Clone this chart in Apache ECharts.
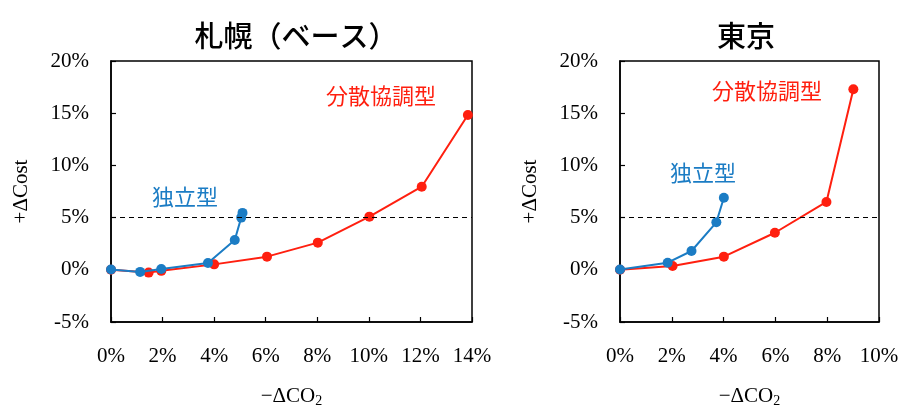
<!DOCTYPE html>
<html><head><meta charset="utf-8">
<script src="https://cdn.jsdelivr.net/npm/echarts@6/dist/echarts.min.js"></script>
<style>html,body{margin:0;padding:0;background:#fff}#c{width:904px;height:405px}</style>
</head><body><div id="c"></div>
<script>
// 札幌（ベース） — 分散協調型
const sapporoCO2Dist = [0, 1.46, 1.95, 4.0, 6.05, 8.02, 10.02, 12.05, 13.84];
const sapporoCostDist = [0, -0.27, -0.1, 0.52, 1.26, 2.6, 5.09, 7.96, 14.83];
// 札幌（ベース） — 独立型
const sapporoCO2Ind = [0, 1.13, 1.95, 3.76, 4.8, 5.05, 5.1];
const sapporoCostInd = [0.03, -0.2, 0.08, 0.65, 2.85, 5.0, 5.45];
// 東京 — 分散協調型
const tokyoCO2Dist = [0, 2.03, 4.01, 5.98, 7.97, 9.01];
const tokyoCostDist = [0, 0.36, 1.26, 3.55, 6.5, 17.29];
// 東京 — 独立型
const tokyoCO2Ind = [0, 1.84, 2.76, 3.72, 4.01];
const tokyoCostInd = [0.03, 0.68, 1.8, 4.55, 6.9];

const titles = ['札幌（ベース）', '東京'];
const seriesNames = ['分散協調型', '独立型'];
const yMin = -5, yMax = 20, yStep = 5;
const xMaxes = [14, 10], xStep = 2;
const refLine = 5;

const RED = '#ff1f0f', BLUE = '#1b7cc4';
const SERIF = '"Liberation Serif","Times New Roman",serif';
const JP = '"Noto Sans CJK JP","Noto Sans",sans-serif';

const zip = (a, b) => a.map((v, i) => [v, b[i]]);
const grids = [
  {left: 111, top: 61, width: 361, height: 261},
  {left: 620, top: 61, width: 259, height: 261}
];

function xAxis(i) {
  return {
    type: 'value', gridIndex: i, min: 0, max: xMaxes[i], interval: xStep,
    axisLine: {show: true, onZero: false, lineStyle: {color: '#000', width: 1.5}},
    axisTick: {show: true, inside: true, length: 5, lineStyle: {color: '#000', width: 1.2}},
    axisLabel: {formatter: '{value}%', color: '#000', fontFamily: SERIF, fontSize: 21, margin: 24},
    splitLine: {show: false},
    name: '−ΔCO{sub|2}', nameLocation: 'middle', nameGap: 63,
    nameTextStyle: {color: '#000', fontFamily: SERIF, fontSize: 21,
      rich: {sub: {fontFamily: SERIF, fontSize: 14, color: '#000', verticalAlign: 'bottom', padding: [9, 0, 0, 0]}}}
  };
}
function yAxis(i) {
  return {
    type: 'value', gridIndex: i, min: yMin, max: yMax, interval: yStep,
    axisLine: {show: true, onZero: false, lineStyle: {color: '#000', width: 1.5}},
    axisTick: {show: true, inside: true, length: 5, lineStyle: {color: '#000', width: 1.2}},
    axisLabel: {formatter: '{value}%', color: '#000', fontFamily: SERIF, fontSize: 21, margin: 22},
    splitLine: {show: false},
    name: '+ΔCost', nameLocation: 'middle', nameGap: 79, nameRotate: 90,
    nameTextStyle: {color: '#000', fontFamily: SERIF, fontSize: 21}
  };
}
function lineSeries(name, data, color, i, withRef) {
  const s = {
    name, type: 'line', xAxisIndex: i, yAxisIndex: i, data,
    symbol: 'circle', symbolSize: 10, showSymbol: true,
    lineStyle: {color, width: 2}, itemStyle: {color},
    z: name === seriesNames[1] ? 4 : 3, animation: false
  };
  if (withRef) {
    s.markLine = {silent: true, symbol: ['none', 'none'], label: {show: false},
      lineStyle: {color: '#000', type: [5, 4], width: 1.2}, data: [{yAxis: refLine}]};
  }
  return s;
}

const chart = echarts.init(document.getElementById('c'));
chart.setOption({
  animation: false,
  title: [
    {text: titles[0], left: 291, top: 16, textAlign: 'center',
      textStyle: {fontFamily: JP, fontSize: 29, fontWeight: 500, color: '#000'}},
    {text: titles[1], left: 741, top: 16, textAlign: 'center',
      textStyle: {fontFamily: JP, fontSize: 29, fontWeight: 500, color: '#000'}}
  ],
  grid: grids.map(g => Object.assign({show: true, borderColor: '#000', borderWidth: 1.5,
    backgroundColor: 'transparent', containLabel: false, outerBoundsMode: 'none'}, g)),
  xAxis: [xAxis(0), xAxis(1)],
  yAxis: [yAxis(0), yAxis(1)],
  series: [
    lineSeries(seriesNames[0], zip(sapporoCO2Dist, sapporoCostDist), RED, 0, true),
    lineSeries(seriesNames[1], zip(sapporoCO2Ind, sapporoCostInd), BLUE, 0, false),
    lineSeries(seriesNames[0], zip(tokyoCO2Dist, tokyoCostDist), RED, 1, true),
    lineSeries(seriesNames[1], zip(tokyoCO2Ind, tokyoCostInd), BLUE, 1, false)
  ],
  graphic: [
    {type: 'text', x: 381, y: 96, style: {text: seriesNames[0], fill: RED, font: '22px ' + JP, align: 'center', verticalAlign: 'middle'}},
    {type: 'text', x: 185, y: 197, style: {text: seriesNames[1], fill: BLUE, font: '22px ' + JP, align: 'center', verticalAlign: 'middle'}},
    {type: 'text', x: 767, y: 91, style: {text: seriesNames[0], fill: RED, font: '22px ' + JP, align: 'center', verticalAlign: 'middle'}},
    {type: 'text', x: 703, y: 173, style: {text: seriesNames[1], fill: BLUE, font: '22px ' + JP, align: 'center', verticalAlign: 'middle'}}
  ]
});
</script></body></html>
